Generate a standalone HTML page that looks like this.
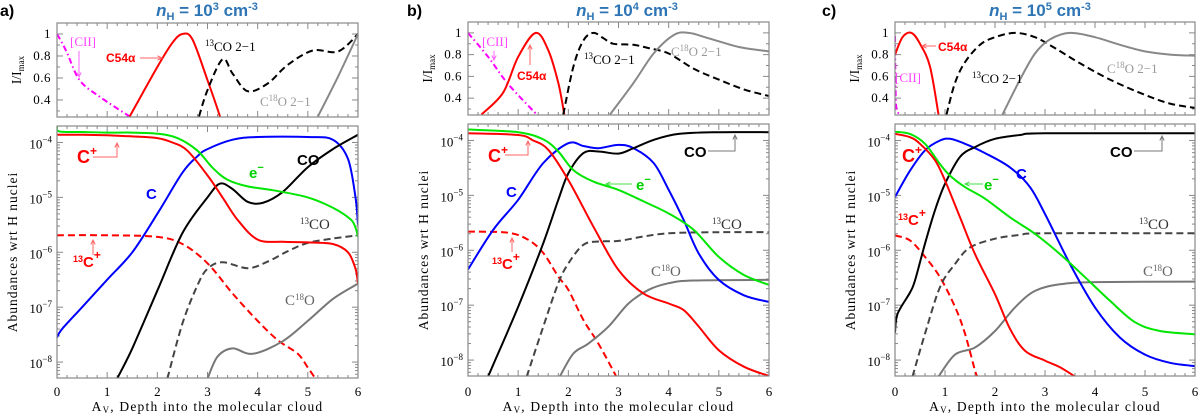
<!DOCTYPE html>
<html><head><meta charset="utf-8"><style>
body{margin:0;background:#fff;width:1200px;height:416px;overflow:hidden}
svg{display:block}
text{font-family:"Liberation Serif",serif}
.t{font-family:"Liberation Sans",sans-serif !important;font-weight:bold;fill:#2e75b6;font-size:17px}
.bs{font-family:"Liberation Sans",sans-serif !important;font-weight:bold}
</style></head><body>
<svg id="fig" width="1200" height="416" viewBox="0 0 1200 416" xmlns="http://www.w3.org/2000/svg"></svg>
<script>
// ---------- data (x = Av, top = I/Imax, bottom = log10 abundance) ----------
// Panel a
const A_CII_X=[0,0.1,0.2,0.45,0.85,1.45];
const A_CII_Y=[1,0.92,0.83,0.58,0.43,0.25];
const A_C54_X=[1.45,2.0,2.3,2.5,2.7,3.0,3.25];
const A_C54_Y=[0.25,0.70,0.92,1.0,0.95,0.58,0.25];
const A_13CO21_X=[2.83,3.0,3.3,3.5,3.8,4.2,4.6,5.1,5.6,6];
const A_13CO21_Y=[0.25,0.49,0.77,0.64,0.48,0.55,0.72,0.85,0.84,1.0];
const A_C18O21_X=[5.2,5.6,6];
const A_C18O21_Y=[0.25,0.61,1.0];
const A_CP_X=[0,0.5,1,1.5,2,2.3,2.6,3,3.3,3.6,4,4.5,5,5.5,5.8,5.95,6];
const A_CP_Y=[-3.86,-3.86,-3.87,-3.89,-3.92,-4.0,-4.15,-4.6,-5.0,-5.41,-5.77,-5.81,-5.82,-5.85,-6.0,-6.3,-6.57];
const A_E_X=[0,0.05,0.5,1,1.5,2,2.4,2.8,3.1,3.4,3.8,4.3,5,5.5,5.85,5.95,6];
const A_E_Y=[-3.72,-3.8,-3.81,-3.82,-3.82,-3.84,-3.92,-4.15,-4.46,-4.68,-4.8,-4.87,-5.0,-5.19,-5.4,-5.55,-5.72];
const A_C_X=[0,0.1,0.5,1,1.5,2,2.5,2.8,3,3.5,4,5,5.5,5.8,5.95,6];
const A_C_Y=[-7.55,-7.4,-7.0,-6.5,-6.0,-5.3,-4.55,-4.25,-4.12,-3.95,-3.9,-3.9,-3.95,-4.3,-5.0,-5.5];
const A_CO_X=[1.2,1.5,2,2.5,3,3.25,3.5,3.8,4.1,4.5,5,5.5,6];
const A_CO_Y=[-8.3,-7.75,-6.7,-5.65,-5.0,-4.75,-4.85,-5.08,-5.1,-4.9,-4.45,-4.12,-3.86];
const A_13CP_X=[0,1,2,2.5,3,3.5,4,4.4,4.8,5.0,5.15];
const A_13CP_Y=[-5.69,-5.69,-5.72,-5.85,-6.2,-6.75,-7.25,-7.6,-7.85,-8.1,-8.3];
const A_13CO_X=[2.2,2.5,2.8,3,3.3,3.8,4.2,4.6,5,5.5,6];
const A_13CO_Y=[-8.3,-7.3,-6.6,-6.3,-6.18,-6.29,-6.17,-5.98,-5.83,-5.75,-5.69];
const A_C18O_X=[3.0,3.2,3.5,3.9,4.5,5,5.5,6];
const A_C18O_Y=[-8.3,-7.9,-7.75,-7.85,-7.62,-7.25,-6.85,-6.57];
// Panel b
const B_CII_X=[0,0.4,0.8,1.37];
const B_CII_Y=[1,0.78,0.53,0.25];
const B_C54_X=[0.27,0.7,1.0,1.35,1.6,1.8,1.92];
const B_C54_Y=[0.25,0.45,0.78,1.0,0.84,0.54,0.25];
const B_13CO21_X=[1.9,2.1,2.3,2.5,2.7,2.9,3.3,3.6,4,4.5,5,5.5,6];
const B_13CO21_Y=[0.25,0.69,0.93,1.0,0.95,0.9,0.89,0.86,0.81,0.67,0.57,0.48,0.42];
const B_C18O21_X=[2.83,3.3,3.7,4.1,4.4,4.8,5.4,6];
const B_C18O21_Y=[0.25,0.54,0.81,0.98,1.0,0.95,0.87,0.83];
const B_CP_X=[0,1,1.3,1.6,2,2.5,3,3.5,4,4.3,4.6,5,5.5,6];
const B_CP_Y=[-3.87,-3.9,-4.0,-4.17,-4.72,-5.57,-6.36,-6.79,-6.97,-7.09,-7.39,-7.82,-8.12,-8.29];
const B_E_X=[0,1,1.5,1.8,2.1,2.5,3,3.5,4,4.5,5,5.5,6];
const B_E_Y=[-3.8,-3.85,-3.98,-4.2,-4.54,-4.75,-4.9,-5.11,-5.33,-5.63,-6.12,-6.45,-6.63];
const B_C_X=[0,0.5,1,1.5,2,2.3,2.6,3,3.3,3.7,4,4.3,4.6,5,5.5,6];
const B_C_Y=[-6.35,-5.63,-5.08,-4.41,-4.05,-4.1,-4.14,-4.08,-4.14,-4.41,-4.9,-5.45,-6.06,-6.54,-6.82,-6.94];
const B_CO_X=[0.4,0.5,1,1.5,1.8,2,2.3,2.6,3,3.3,3.7,4.2,5,6];
const B_CO_Y=[-8.3,-8.09,-7.03,-5.87,-5.08,-4.6,-4.23,-4.2,-4.24,-4.14,-3.99,-3.88,-3.85,-3.85];
const B_13CP_X=[0,0.8,1.2,1.5,1.8,2,2.3,2.6,2.95];
const B_13CP_Y=[-5.66,-5.68,-5.81,-6.05,-6.48,-6.72,-7.27,-7.7,-8.29];
const B_13CO_X=[1.17,1.5,1.8,2,2.3,2.6,3,3.5,4,5,6];
const B_13CO_Y=[-8.3,-7.39,-6.6,-6.24,-5.9,-5.84,-5.83,-5.75,-5.69,-5.67,-5.67];
const B_C18O_X=[1.83,2.1,2.4,2.8,3.2,3.6,4,4.5,6];
const B_C18O_Y=[-8.3,-7.88,-7.7,-7.39,-6.97,-6.72,-6.6,-6.55,-6.54];
// Panel c
const C_CII_X=[0,0.01,0.03,0.1];
const C_CII_Y=[0.97,0.5,0.3,0.25];
const C_C54_X=[0,0.15,0.33,0.5,0.7,0.87];
const C_C54_Y=[0.8,0.96,1.0,0.9,0.69,0.25];
const C_13CO21_X=[1.03,1.2,1.4,1.7,2.0,2.4,2.8,3.2,3.7,4.3,5,5.5,6];
const C_13CO21_Y=[0.25,0.54,0.73,0.89,0.96,1.0,0.96,0.86,0.72,0.57,0.43,0.35,0.31];
const C_C18O21_X=[2.15,2.5,2.8,3.1,3.5,4,4.5,5,5.5,6];
const C_C18O21_Y=[0.25,0.57,0.81,0.94,1.0,0.96,0.89,0.83,0.8,0.79];
const C_CP_X=[0,0.3,0.5,0.8,1.0,1.3,1.6,2,2.3,2.6,3,3.3,3.6];
const C_CP_Y=[-3.88,-3.94,-4.06,-4.36,-4.73,-5.4,-6.07,-6.8,-7.43,-7.83,-8.01,-8.13,-8.3];
const C_E_X=[0,0.3,0.6,0.9,1.1,1.4,1.8,2.3,2.8,3.3,3.8,4.3,4.8,5.3,6];
const C_E_Y=[-3.84,-3.88,-4.06,-4.43,-4.64,-4.85,-5.06,-5.4,-5.7,-6.07,-6.49,-6.92,-7.31,-7.47,-7.53];
const C_C_X=[0,0.3,0.6,0.9,1.1,1.4,1.8,2.3,2.7,3.0,3.5,4,4.5,5,5.5,6];
const C_C_Y=[-5.03,-4.55,-4.18,-4.0,-3.97,-4.06,-4.23,-4.49,-4.85,-5.34,-6.25,-7.04,-7.59,-7.9,-8.05,-8.11];
const C_CO_X=[0,0.05,0.3,0.4,0.6,0.8,1.0,1.3,1.6,2,2.5,3,6];
const C_CO_Y=[-7.5,-7.16,-6.77,-6.55,-5.88,-5.27,-4.79,-4.3,-4.12,-3.97,-3.9,-3.87,-3.87];
const C_13CP_X=[0,0.3,0.6,0.9,1.2,1.4,1.6,1.65];
const C_13CP_Y=[-5.73,-5.82,-6.12,-6.49,-7.03,-7.52,-8.19,-8.3];
const C_13CO_X=[0.35,0.6,0.9,1.2,1.5,2,2.5,3,6];
const C_13CO_Y=[-8.3,-7.52,-6.67,-6.25,-5.95,-5.79,-5.72,-5.69,-5.69];
const C_C18O_X=[0.87,1.2,1.6,2,2.4,2.8,3.3,4,6];
const C_C18O_Y=[-8.3,-7.9,-7.77,-7.47,-7.04,-6.74,-6.62,-6.58,-6.57];
// ticks
const X_TICKS=[0,1,2,3,4,5,6];
const I_TICKS=[0.4,0.6,0.8,1];
const LOG_TICKS=[-4,-5,-6,-7,-8];
const X_DOMAIN=[0,6], I_DOMAIN=[0.245,1.10], LOG_DOMAIN=[-8.29,-3.70];

const NS="http://www.w3.org/2000/svg";
const svg=document.getElementById('fig');
function mk(tag,attrs,parent){const e=document.createElementNS(NS,tag);for(const k in attrs)e.setAttribute(k,attrs[k]);(parent||svg).appendChild(e);return e;}
function smooth(p){if(p.length<2)return'';let d='M'+p[0][0].toFixed(1)+','+p[0][1].toFixed(1);
 for(let i=0;i<p.length-1;i++){const p0=p[i-1]||p[i],p1=p[i],p2=p[i+1],p3=p[i+2]||p2;
  const c1=[p1[0]+(p2[0]-p0[0])/6,p1[1]+(p2[1]-p0[1])/6],c2=[p2[0]-(p3[0]-p1[0])/6,p2[1]-(p3[1]-p1[1])/6];
  d+=' C'+c1[0].toFixed(1)+','+c1[1].toFixed(1)+' '+c2[0].toFixed(1)+','+c2[1].toFixed(1)+' '+p2[0].toFixed(1)+','+p2[1].toFixed(1);}return d;}

const PANELS=[
 {id:'a',x0:57,x1:358,tT:23,tB:117,bT:126,bB:378,dens:'3',tx:207,lx:0,
  top:[[A_CII_X,A_CII_Y,'#ff00ff','6 3 1.5 3','cii'],[A_C54_X,A_C54_Y,'#ff0000','','c54a'],[A_13CO21_X,A_13CO21_Y,'#000','7 4','13co-2-1'],[A_C18O21_X,A_C18O21_Y,'#888','','c18o-2-1']],
  bot:[[A_13CP_X,A_13CP_Y,'#ff0000','7 4','13cplus'],[A_13CO_X,A_13CO_Y,'#444','7 4','13co'],[A_C18O_X,A_C18O_Y,'#777','','c18o'],[A_C_X,A_C_Y,'#0000ff','','c'],[A_CO_X,A_CO_Y,'#000','','co'],[A_E_X,A_E_Y,'#00e600','','electron'],[A_CP_X,A_CP_Y,'#ff0000','','cplus']]},
 {id:'b',x0:468,x1:769,tT:22,tB:115,bT:124,bB:376,dens:'4',tx:627,lx:407,
  top:[[B_CII_X,B_CII_Y,'#ff00ff','6 3 1.5 3','cii'],[B_C54_X,B_C54_Y,'#ff0000','','c54a'],[B_13CO21_X,B_13CO21_Y,'#000','7 4','13co-2-1'],[B_C18O21_X,B_C18O21_Y,'#888','','c18o-2-1']],
  bot:[[B_13CP_X,B_13CP_Y,'#ff0000','7 4','13cplus'],[B_13CO_X,B_13CO_Y,'#444','7 4','13co'],[B_C18O_X,B_C18O_Y,'#777','','c18o'],[B_C_X,B_C_Y,'#0000ff','','c'],[B_CO_X,B_CO_Y,'#000','','co'],[B_E_X,B_E_Y,'#00e600','','electron'],[B_CP_X,B_CP_Y,'#ff0000','','cplus']]},
 {id:'c',x0:895,x1:1195,tT:22,tB:115,bT:124,bB:376,dens:'5',tx:1040,lx:822,
  top:[[C_CII_X,C_CII_Y,'#ff00ff','6 3 1.5 3','cii'],[C_C54_X,C_C54_Y,'#ff0000','','c54a'],[C_13CO21_X,C_13CO21_Y,'#000','7 4','13co-2-1'],[C_C18O21_X,C_C18O21_Y,'#888','','c18o-2-1']],
  bot:[[C_13CP_X,C_13CP_Y,'#ff0000','7 4','13cplus'],[C_13CO_X,C_13CO_Y,'#444','7 4','13co'],[C_C18O_X,C_C18O_Y,'#777','','c18o'],[C_C_X,C_C_Y,'#0000ff','','c'],[C_CO_X,C_CO_Y,'#000','','co'],[C_E_X,C_E_Y,'#00e600','','electron'],[C_CP_X,C_CP_Y,'#ff0000','','cplus']]}
];

function txt(x,y,s,attrs,name){const t=mk('text',Object.assign({x:x,y:y},attrs||{}));t.innerHTML=s;
 
 return t;}
function arrow(pts,color,name){const g=mk('g',{});
 
 
 mk('polyline',{points:pts.map(p=>p.join(',')).join(' '),fill:'none',stroke:color,'stroke-width':1},g);
 const a=pts[pts.length-2],b=pts[pts.length-1];const ang=Math.atan2(b[1]-a[1],b[0]-a[0]);
 const h=5,w=0.45;mk('polyline',{points:[[b[0]-h*Math.cos(ang-w),b[1]-h*Math.sin(ang-w)],b,[b[0]-h*Math.cos(ang+w),b[1]-h*Math.sin(ang+w)]].map(p=>p.join(',')).join(' '),fill:'none',stroke:color,'stroke-width':1},g);}

PANELS.forEach(P=>{
 const g=mk('g',{});
 
 
 const sx=v=>P.x0+(v-X_DOMAIN[0])/(X_DOMAIN[1]-X_DOMAIN[0])*(P.x1-P.x0);
 const syT=v=>P.tB-(v-I_DOMAIN[0])/(I_DOMAIN[1]-I_DOMAIN[0])*(P.tB-P.tT);
 const syB=v=>P.bB-(v-LOG_DOMAIN[0])/(LOG_DOMAIN[1]-LOG_DOMAIN[0])*(P.bB-P.bT);
 const defs=mk('defs',{},g);
 const c1=mk('clipPath',{id:'ct'+P.id},defs);mk('rect',{x:P.x0,y:P.tT,width:P.x1-P.x0,height:P.tB-P.tT},c1);
 const c2=mk('clipPath',{id:'cb'+P.id},defs);mk('rect',{x:P.x0,y:P.bT,width:P.x1-P.x0,height:P.bB-P.bT},c2);
 const tk=mk('g',{stroke:'#888','stroke-width':1},g);
 
 
 for(let v=0;v<=6.001;v+=0.2){const x=sx(v),L=(Math.abs(v-Math.round(v))<0.01)?6:3;
  [[P.tT,1],[P.tB,-1],[P.bT,1],[P.bB,-1]].forEach(([y,d])=>mk('line',{x1:x,x2:x,y1:y,y2:y+d*L},tk));}
 for(let v=0.3;v<=1.101;v+=0.1){const y=syT(v),L=(Math.round(v*10)%2==0)?6:3;
  mk('line',{x1:P.x0,x2:P.x0+L,y1:y,y2:y},tk);mk('line',{x1:P.x1,x2:P.x1-L,y1:y,y2:y},tk);}
 for(let e=-9;e<=-4;e++)for(let m=1;m<=9;m++){const lv=e+Math.log10(m);if(lv<LOG_DOMAIN[0]||lv>LOG_DOMAIN[1])continue;
  const y=syB(lv),L=m==1?6:3;mk('line',{x1:P.x0,x2:P.x0+L,y1:y,y2:y},tk);mk('line',{x1:P.x1,x2:P.x1-L,y1:y,y2:y},tk);}
 P.top.forEach(s=>{const p=mk('path',{d:smooth(s[0].map((x,i)=>[sx(x),syT(s[1][i])])),fill:'none',stroke:s[2],'stroke-width':2,'stroke-dasharray':s[3]||'none','clip-path':'url(#ct'+P.id+')'},g);
  
  });
 P.bot.forEach(s=>{const p=mk('path',{d:smooth(s[0].map((x,i)=>[sx(x),syB(s[1][i])])),fill:'none',stroke:s[2],'stroke-width':2,'stroke-dasharray':s[3]||'none','clip-path':'url(#cb'+P.id+')'},g);
  
  });
 mk('rect',{x:P.x0,y:P.tT,width:P.x1-P.x0,height:P.tB-P.tT,fill:'none',stroke:'#888','stroke-width':1.2},g);
 mk('rect',{x:P.x0,y:P.bT,width:P.x1-P.x0,height:P.bB-P.bT,fill:'none',stroke:'#888','stroke-width':1.2},g);
 X_TICKS.forEach(v=>txt(sx(v),396,v,{'font-size':13,'text-anchor':'middle'},'x-tick-label'));
 I_TICKS.forEach(v=>txt(P.x0-6,syT(v)+4,v,{'font-size':13,'text-anchor':'end','letter-spacing':'0.5'},'y-tick-label-top'));
 LOG_TICKS.forEach(v=>txt(P.x0-5,syB(v)+6,'10<tspan dy="-6" font-size="9">'+(v<0?'\u2212':'')+Math.abs(v)+'</tspan>',{'font-size':13,'text-anchor':'end'},'y-tick-label-bottom'));
 txt((P.x0+P.x1)/2,411,'A<tspan font-size="9" dy="2">V</tspan><tspan dy="-2">, Depth into the molecular cloud</tspan>',{'font-size':13.5,'text-anchor':'middle','letter-spacing':'1.2'},'x-axis-title');
 txt(0,0,'I/I<tspan font-size="9" dy="3">max</tspan>',{'font-size':13.5,'text-anchor':'middle',transform:'translate('+(P.x0-36)+','+((P.tT+P.tB)/2)+') rotate(-90)'},'y-axis-title-top');
 txt(0,0,'Abundances wrt H nuclei',{'font-size':13.5,'text-anchor':'middle','letter-spacing':'1',transform:'translate('+(P.x0-40)+','+((P.bT+P.bB)/2)+') rotate(-90)'},'y-axis-title-bottom');
 txt(P.tx,16,'<tspan font-style="italic">n</tspan><tspan font-size="11" dy="4">H</tspan><tspan dy="-4"> = 10</tspan><tspan font-size="11" dy="-6">'+P.dens+'</tspan><tspan dy="6"> cm</tspan><tspan font-size="11" dy="-6">-3</tspan>',{'class':'t','text-anchor':'middle'},'panel-title');
 txt(P.lx,16,P.id+')',{'class':'bs','font-size':16},'panel-letter');
});

const sup=s=>'<tspan font-size="9" dy="-5">'+s+'</tspan><tspan dy="5">';
const B={'class':'bs'};
// Panel a annotations
txt(70,46,'[CII]',{fill:'#ff44ff','font-size':13},'label-cii');arrow([[79,51],[79,77]],'#ff66ff','arrow-cii');
txt(106,62,'C54α',Object.assign({fill:'#ff0000','font-size':12},B),'label-c54a');arrow([[140,58],[162,58]],'#ff6666','arrow-c54a');
txt(205,51,sup('13')+'CO 2\u22121</tspan>',{'font-size':13},'label-13co-2-1');
txt(260,106,'C'+sup('18')+'O 2\u22121</tspan>',{fill:'#999','font-size':13},'label-c18o-2-1');
txt(77,163,'C<tspan font-size="12" dy="-8">+</tspan>',Object.assign({fill:'#ff0000','font-size':18},B),'label-cplus');arrow([[93,157],[117,157],[117,143]],'#ff6666','arrow-cplus');
txt(146,199,'C',Object.assign({fill:'#0000ff','font-size':15},B),'label-c');
txt(249,178,'e<tspan font-size="11" dy="-7">\u2212</tspan>',Object.assign({fill:'#00d000','font-size':15},B),'label-electron');
txt(297,165,'CO',Object.assign({fill:'#000','font-size':15},B),'label-co');
txt(300,229,sup('13')+'CO</tspan>',{fill:'#333','font-size':15},'label-13co');
txt(73,267,sup('13')+'C<tspan font-size="12" dy="-8">+</tspan>',Object.assign({fill:'#ff0000','font-size':15},B),'label-13cplus');arrow([[93,255],[93,240]],'#ff6666','arrow-13cplus');
txt(285,305,'C'+sup('18')+'O</tspan>',{fill:'#666','font-size':15},'label-c18o');
// Panel b annotations
txt(482,46,'[CII]',{fill:'#ff44ff','font-size':13},'label-cii');arrow([[494,51],[494,60]],'#ff66ff','arrow-cii');
txt(517,80,'C54α',Object.assign({fill:'#ff0000','font-size':12},B),'label-c54a');arrow([[530,65],[530,45]],'#ff6666','arrow-c54a');
txt(584,64,sup('13')+'CO 2\u22121</tspan>',{'font-size':13},'label-13co-2-1');
txt(671,56,'C'+sup('18')+'O 2\u22121</tspan>',{fill:'#999','font-size':13},'label-c18o-2-1');
txt(488,162,'C<tspan font-size="12" dy="-8">+</tspan>',Object.assign({fill:'#ff0000','font-size':18},B),'label-cplus');arrow([[505,155],[528,155],[528,141]],'#ff6666','arrow-cplus');
txt(506,197,'C',Object.assign({fill:'#0000ff','font-size':15},B),'label-c');
txt(636,190,'e<tspan font-size="11" dy="-7">\u2212</tspan>',Object.assign({fill:'#00d000','font-size':15},B),'label-electron');arrow([[632,184],[606,184]],'#44dd44','arrow-electron');
txt(684,157,'CO',Object.assign({fill:'#000','font-size':15},B),'label-co');arrow([[708,151],[735,151],[735,135]],'#777','arrow-co');
txt(712,229,sup('13')+'CO</tspan>',{fill:'#333','font-size':15},'label-13co');
txt(492,269,sup('13')+'C<tspan font-size="12" dy="-8">+</tspan>',Object.assign({fill:'#ff0000','font-size':15},B),'label-13cplus');arrow([[512,252],[512,238]],'#ff6666','arrow-13cplus');
txt(651,276,'C'+sup('18')+'O</tspan>',{fill:'#666','font-size':15},'label-c18o');
// Panel c annotations
txt(938,51,'C54α',Object.assign({fill:'#ff0000','font-size':12},B),'label-c54a');arrow([[936,46],[922,46]],'#ff6666','arrow-c54a');
txt(895,82,'[CII]',{fill:'#ff44ff','font-size':13},'label-cii');
txt(972,83,sup('13')+'CO 2\u22121</tspan>',{'font-size':13},'label-13co-2-1');
txt(1107,73,'C'+sup('18')+'O 2\u22121</tspan>',{fill:'#999','font-size':13},'label-c18o-2-1');
txt(902,162,'C<tspan font-size="12" dy="-8">+</tspan>',Object.assign({fill:'#ff0000','font-size':18},B),'label-cplus');
txt(1016,179,'C',Object.assign({fill:'#0000ff','font-size':15},B),'label-c');
txt(984,190,'e<tspan font-size="11" dy="-7">\u2212</tspan>',Object.assign({fill:'#00d000','font-size':15},B),'label-electron');arrow([[983,184],[965,184]],'#44dd44','arrow-electron');
txt(1110,157,'CO',Object.assign({fill:'#000','font-size':15},B),'label-co');arrow([[1134,151],[1162,151],[1162,136]],'#777','arrow-co');
txt(1139,229,sup('13')+'CO</tspan>',{fill:'#333','font-size':15},'label-13co');
txt(898,225,sup('13')+'C<tspan font-size="12" dy="-8">+</tspan>',Object.assign({fill:'#ff0000','font-size':15},B),'label-13cplus');
txt(1143,276,'C'+sup('18')+'O</tspan>',{fill:'#666','font-size':15},'label-c18o');
</script>
</body></html>
